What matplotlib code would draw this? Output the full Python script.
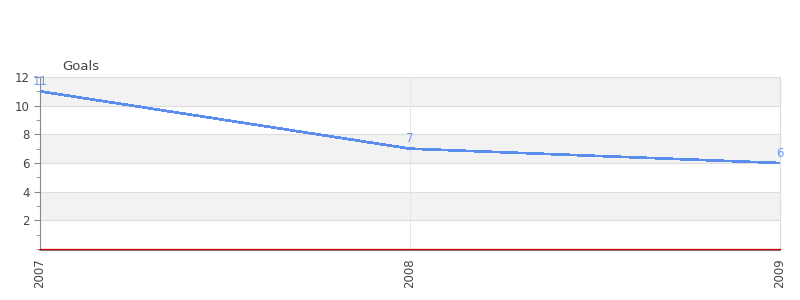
import matplotlib
matplotlib.use("Agg")
import matplotlib.pyplot as plt
from matplotlib.ticker import MultipleLocator

years = ["2007", "2008", "2009"]
goals = [11, 7, 6]

fig = plt.figure(figsize=(8, 3), dpi=100)
ax = fig.add_axes([0.05, 0.17, 0.925, 0.5733])
ax.spines["bottom"].set_position(("outward", 1))
x = list(range(len(years)))

# alternating bands
for lo in range(0, 12, 2):
    if (lo // 2) % 2 == 1:
        ax.axhspan(lo, lo + 2, color="#f2f2f2", zorder=0, lw=0)
for y in range(2, 13, 2):
    ax.axhline(y, color="#dddddd", lw=0.8, zorder=1)
for xi in x[1:]:
    ax.axvline(xi, color="#e6e6e6", lw=0.8, zorder=1)

ax.plot(x, goals, color="#5b8def", lw=1.2, zorder=3, antialiased=False)
for xi, v in zip(x, goals):
    ax.annotate(str(v), (xi, v), xytext=(0, 2.5), textcoords="offset points",
                ha="center", va="bottom", color="#6f9cf0", fontsize=8.5, zorder=4)

ax.axhline(0, color="#cc0000", lw=0.9, zorder=5, clip_on=False)

ax.set_xlim(0, 2)
ax.set_ylim(0, 12)
ax.set_xticks(x)
ax.set_xticklabels(years, rotation=90, fontsize=8.5, color="#444444")
ax.set_yticks(range(2, 13, 2))
ax.set_yticklabels([str(v) for v in range(2, 13, 2)], fontsize=8.5, color="#444444")
ax.yaxis.set_minor_locator(MultipleLocator(1))
ax.tick_params(axis="y", which="both", color="#888888", length=4)
ax.tick_params(axis="y", which="minor", length=3)
ax.tick_params(axis="x", length=0, pad=6)

ax.spines["top"].set_visible(False)
ax.spines["right"].set_color("#dddddd")
ax.spines["left"].set_color("#888888")
ax.spines["bottom"].set_color("#666666")
ax.spines["bottom"].set_linewidth(1.2)

fig.text(62 / 800, 1 - 66 / 300, "Goals", fontsize=9.5, color="#444444",
         ha="left", va="center")

fig.savefig("out.png", dpi=100)
